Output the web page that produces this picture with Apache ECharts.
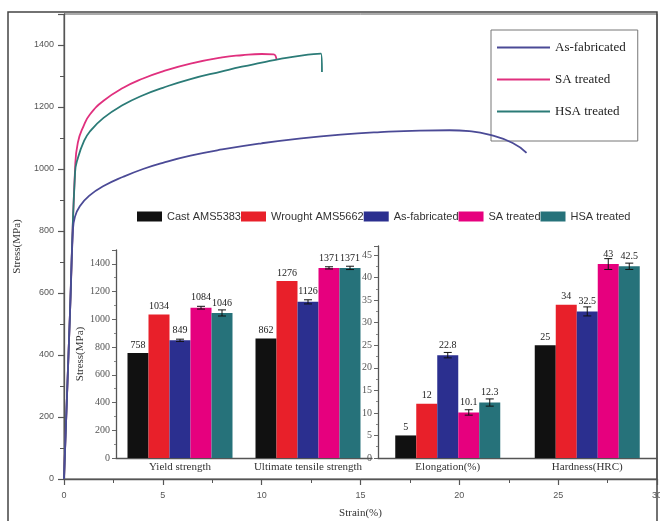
<!DOCTYPE html>
<html><head><meta charset="utf-8">
<script src="https://cdn.jsdelivr.net/npm/echarts@6/dist/echarts.min.js"></script>
<style>html,body{margin:0;padding:0;background:#fff}#c{width:660px;height:521px}</style>
</head><body><div id="c"></div>
<script>
// ---- Main stress-strain curves ----
const asFabStrain = [0, 0.3, 0.45, 0.55, 0.8, 1.3, 2, 3, 4, 5, 6.4, 8, 10, 12, 14, 16, 18, 19.5, 20.5, 21.5, 22.7, 23.4];
const asFabStress = [0, 530, 800, 845, 880, 915, 945, 975, 1000, 1020, 1043, 1063, 1083, 1099, 1111, 1119, 1124, 1125, 1122, 1111, 1084, 1052];
const saStrain = [0, 0.3, 0.56, 0.7, 1, 1.3, 2, 3, 4, 5, 6.4, 8, 9, 10, 10.6, 10.75];
const saStress = [0, 530, 1000, 1085, 1140, 1175, 1220, 1262, 1292, 1315, 1340, 1360, 1367, 1371, 1370, 1352];
const hsaStrain = [0, 0.3, 0.56, 0.7, 1, 1.3, 2, 3, 4, 5, 6.4, 8, 9, 10, 11, 12, 13, 13.05];
const hsaStress = [0, 530, 990, 1035, 1088, 1120, 1165, 1207, 1238, 1262, 1290, 1315, 1330, 1343, 1356, 1366, 1372, 1313];
const curveNames = ['As-fabricated', 'SA treated', 'HSA treated'];

// ---- Inset bar charts ----
const materials = ['Cast AMS5383', 'Wrought AMS5662', 'As-fabricated', 'SA treated', 'HSA treated'];
const strengthCats = ['Yield strength', 'Ultimate tensile strength'];
const strengthVals = [[758, 862], [1034, 1276], [849, 1126], [1084, 1371], [1046, 1371]];
const strengthErr = [[0, 0], [0, 0], [8, 15], [10, 8], [22, 12]];
const ductCats = ['Elongation(%)', 'Hardness(HRC)'];
const ductVals = [[5, 25], [12, 34], [22.8, 32.5], [10.1, 43], [12.3, 42.5]];
const ductErr = [[0, 0], [0, 0], [0.6, 1], [0.6, 1.2], [0.8, 0.7]];
const strengthTicks = [0, 1500, 200];
const ductTicks = [0, 47, 5];

const curveColors = ['#4b4a96', '#e0307e', '#2b7b77'];
const barColors = ['#111111', '#e8202a', '#2b2f8f', '#e6007e', '#26727a'];
const BAR_W = 21;
const SERIF = '"Liberation Serif", "Times New Roman", serif';
const SANS = '"Liberation Sans", Arial, sans-serif';

const zip = (a, b) => a.map((v, i) => [v, b[i]]);
const curves = [zip(asFabStrain, asFabStress), zip(saStrain, saStress), zip(hsaStrain, hsaStress)];

const series = [];
curves.forEach((d, i) => {
  series.push({
    type: 'line', name: curveNames[i], xAxisIndex: 0, yAxisIndex: 0,
    data: d, symbol: 'none', smooth: 0.5,
    z: i === 0 ? 4 : 3,
    lineStyle: { color: curveColors[i], width: 1.8 }, itemStyle: { color: curveColors[i] }
  });
});

function barSeries(axisIdx, vals) {
  materials.forEach((m, k) => {
    series.push({
      type: 'bar', name: k >= 2 ? m + ' ' : m, xAxisIndex: axisIdx, yAxisIndex: axisIdx,
      data: vals[k], barWidth: BAR_W, barGap: '0%',
      itemStyle: { color: barColors[k] },
      label: { show: true, position: 'top', distance: k >= 2 ? 5 : 3, fontFamily: SERIF, fontSize: 10, color: '#222' }
    });
  });
}
function errSeries(axisIdx, vals, errs) {
  const data = [];
  vals.forEach((arr, k) => arr.forEach((v, c) => { if (errs[k][c] > 0) data.push([c, v, errs[k][c], k]); }));
  series.push({
    type: 'custom', xAxisIndex: axisIdx, yAxisIndex: axisIdx, z: 6, silent: true,
    encode: { x: 0, y: 1 }, data,
    renderItem(params, api) {
      const c = api.value(0), v = api.value(1), e = api.value(2), k = api.value(3);
      const off = (k - 2) * BAR_W;
      const t = api.coord([c, v + e]), b = api.coord([c, v - e]);
      const x = t[0] + off;
      const st = { stroke: '#111', lineWidth: 1 };
      return { type: 'group', children: [
        { type: 'line', shape: { x1: x, y1: t[1], x2: x, y2: b[1] }, style: st },
        { type: 'line', shape: { x1: x - 4, y1: t[1], x2: x + 4, y2: t[1] }, style: st },
        { type: 'line', shape: { x1: x - 4, y1: b[1], x2: x + 4, y2: b[1] }, style: st }
      ]};
    }
  });
}
barSeries(1, strengthVals); errSeries(1, strengthVals, strengthErr);
barSeries(2, ductVals); errSeries(2, ductVals, ductErr);

const axisLineStyle = { lineStyle: { color: '#555', width: 1.3 } };
const insetYAxis = (idx, t, name) => ({
  type: 'value', gridIndex: idx, min: t[0], max: t[1], interval: t[2],
  name: name || '', nameLocation: 'middle', nameGap: 25,
  nameTextStyle: { fontFamily: SERIF, fontSize: 11, color: '#333' },
  axisLine: { show: true, ...axisLineStyle },
  axisTick: { show: true, length: 4, lineStyle: { color: '#666' } },
  minorTick: { show: true, splitNumber: 2, length: 2, lineStyle: { color: '#888' } },
  splitLine: { show: false },
  axisLabel: { fontFamily: SERIF, fontSize: 10, color: '#555', margin: 6,
    formatter: v => (v % t[2] === 0 ? String(v) : '') }
});
const insetXAxis = (idx, cats) => ({
  type: 'category', gridIndex: idx, data: cats,
  axisLine: { show: true, ...axisLineStyle }, axisTick: { show: false },
  axisLabel: { fontFamily: SERIF, fontSize: 11, color: '#333', margin: 4, interval: 0 }
});

const option = {
  animation: false,
  backgroundColor: '#fff',
  graphic: [{ type: 'rect', shape: { x: 8, y: 12, width: 649, height: 520 }, style: { fill: 'none', stroke: '#444', lineWidth: 1.5 }, silent: true }],
  grid: [
    { left: 64, top: 14, width: 593, height: 465, show: true, borderColor: '#555', borderWidth: 1, outerBoundsMode: 'none' },
    { left: 116, top: 250, width: 256, height: 208, outerBoundsMode: 'none' },
    { left: 378, top: 246, width: 279, height: 212, outerBoundsMode: 'none' }
  ],
  legend: [
    { data: curveNames, orient: 'vertical', left: 491, top: 30, icon: 'rect', itemWidth: 53, itemHeight: 2, itemGap: 17,
      padding: [10, 12, 22, 6], borderColor: '#777', borderWidth: 1, backgroundColor: '#fff',
      textStyle: { fontFamily: SERIF, fontSize: 13, color: '#222', lineHeight: 15 } },
    { data: materials.map((m, k) => (k >= 2 ? m + ' ' : m)), orient: 'horizontal', left: 137, top: 211,
      icon: 'rect', itemWidth: 25, itemHeight: 10, itemGap: 0, padding: 0,
      formatter: n => n.trim(),
      textStyle: { fontFamily: SANS, fontSize: 11, color: '#333' } }
  ],
  xAxis: [
    { type: 'value', gridIndex: 0, min: 0, max: 30, interval: 5,
      name: 'Strain(%)', nameLocation: 'middle', nameGap: 29,
      nameTextStyle: { fontFamily: SERIF, fontSize: 11, color: '#333' },
      axisLine: { show: true, ...axisLineStyle },
      axisTick: { show: true, length: 6, lineStyle: { color: '#555', width: 1.2 } },
      minorTick: { show: true, splitNumber: 2, length: 4, lineStyle: { color: '#555' } },
      splitLine: { show: false },
      axisLabel: { fontFamily: SANS, fontSize: 9, color: '#555', margin: 12 } },
    insetXAxis(1, strengthCats),
    insetXAxis(2, ductCats)
  ],
  yAxis: [
    { type: 'value', gridIndex: 0, min: 0, max: 1500, interval: 200,
      name: 'Stress(MPa)', nameLocation: 'middle', nameGap: 40,
      nameTextStyle: { fontFamily: SERIF, fontSize: 11, color: '#333' },
      axisLine: { show: true, ...axisLineStyle },
      axisTick: { show: true, length: 6, lineStyle: { color: '#555', width: 1.2 } },
      minorTick: { show: true, splitNumber: 2, length: 4, lineStyle: { color: '#555' } },
      splitLine: { show: false },
      axisLabel: { fontFamily: SANS, fontSize: 9, color: '#555', margin: 10,
        formatter: v => (v % 200 === 0 ? String(v) : '') } },
    insetYAxis(1, strengthTicks, 'Stress(MPa)'),
    insetYAxis(2, ductTicks)
  ],
  series
};
echarts.init(document.getElementById('c'), null, { renderer: 'canvas' }).setOption(option);
</script></body></html>
